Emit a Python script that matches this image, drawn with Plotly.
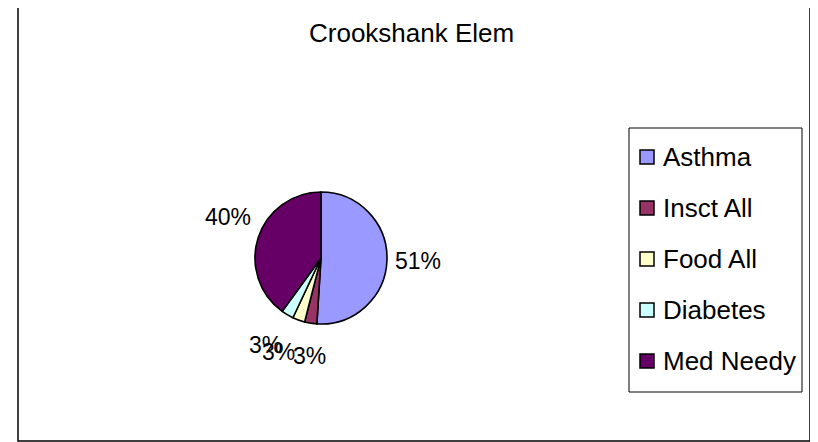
import math
import plotly.graph_objects as go

title = "Crookshank Elem"
categories = ["Asthma", "Insct All", "Food All", "Diabetes", "Med Needy"]
values = [51, 3, 3, 3, 40]
colors = ["#9999FF", "#993366", "#FFFFCC", "#CCFFFF", "#660066"]

# page is 818x442; the html body has an 8px margin
OFF = 8
W, H = 818 - OFF, 442 - OFF
FONT = "Liberation Sans, Arial, sans-serif"


def px(x):
    return (x - OFF) / W


def py(y):
    return 1 - (y - OFF) / H


cx, cy, r = 321, 258, 66

fig = go.Figure()
fig.add_trace(go.Pie(
    labels=categories,
    values=values,
    marker=dict(colors=colors, line=dict(color="black", width=1.6)),
    sort=False,
    direction="clockwise",
    rotation=0,
    textposition="none",
    showlegend=False,
    hoverinfo="label+percent",
    domain=dict(x=[px(cx - r), px(cx + r)], y=[py(cy + r), py(cy - r)]),
))

shapes = [
    dict(type="rect", xref="paper", yref="paper",
         x0=px(18), x1=px(810), y0=py(441), y1=py(4),
         line=dict(color="black", width=1.5), fillcolor="rgba(0,0,0,0)"),
    dict(type="rect", xref="paper", yref="paper",
         x0=px(629), x1=px(802), y0=py(392), y1=py(128),
         line=dict(color="black", width=1), fillcolor="white"),
]
annotations = [
    dict(text=title, xref="paper", yref="paper", x=px(411), y=py(33),
         xanchor="center", yanchor="middle", showarrow=False,
         font=dict(family=FONT, size=26, color="black")),
]

# percentage labels placed just outside each slice (Excel style)
total = sum(values)
Rx, Ry = 72, 84
cum = 0
label_annots = []
for v in values:
    mid = (cum + v / 2) / total * 2 * math.pi
    cum += v
    s, c = math.sin(mid), math.cos(mid)
    xa = "center" if abs(s) < 0.3 else ("left" if s > 0 else "right")
    ya = "middle" if abs(c) < 0.25 else ("bottom" if c > 0 else "top")
    label_annots.append(dict(
        text=f"{round(100 * v / total)}%", xref="paper", yref="paper",
        x=px(cx + s * Rx), y=py(cy - c * Ry), xanchor=xa, yanchor=ya,
        showarrow=False, font=dict(family=FONT, size=23, color="black")))
annotations += label_annots

y0, dy = 157, 51
for i, (lab, col) in enumerate(zip(categories, colors)):
    yc = y0 + i * dy
    shapes.append(dict(type="rect", xref="paper", yref="paper",
                       x0=px(640), x1=px(654), y0=py(yc + 7), y1=py(yc - 7),
                       line=dict(color="black", width=1.5), fillcolor=col))
    annotations.append(dict(text=lab, xref="paper", yref="paper",
                            x=px(661), y=py(yc), xanchor="left", yanchor="middle",
                            showarrow=False,
                            font=dict(family=FONT, size=26, color="black")))

fig.update_layout(
    width=W, height=H,
    margin=dict(l=0, r=0, t=0, b=0),
    paper_bgcolor="white", plot_bgcolor="white",
    shapes=shapes, annotations=annotations,
)

fig.write_html("out.html")
